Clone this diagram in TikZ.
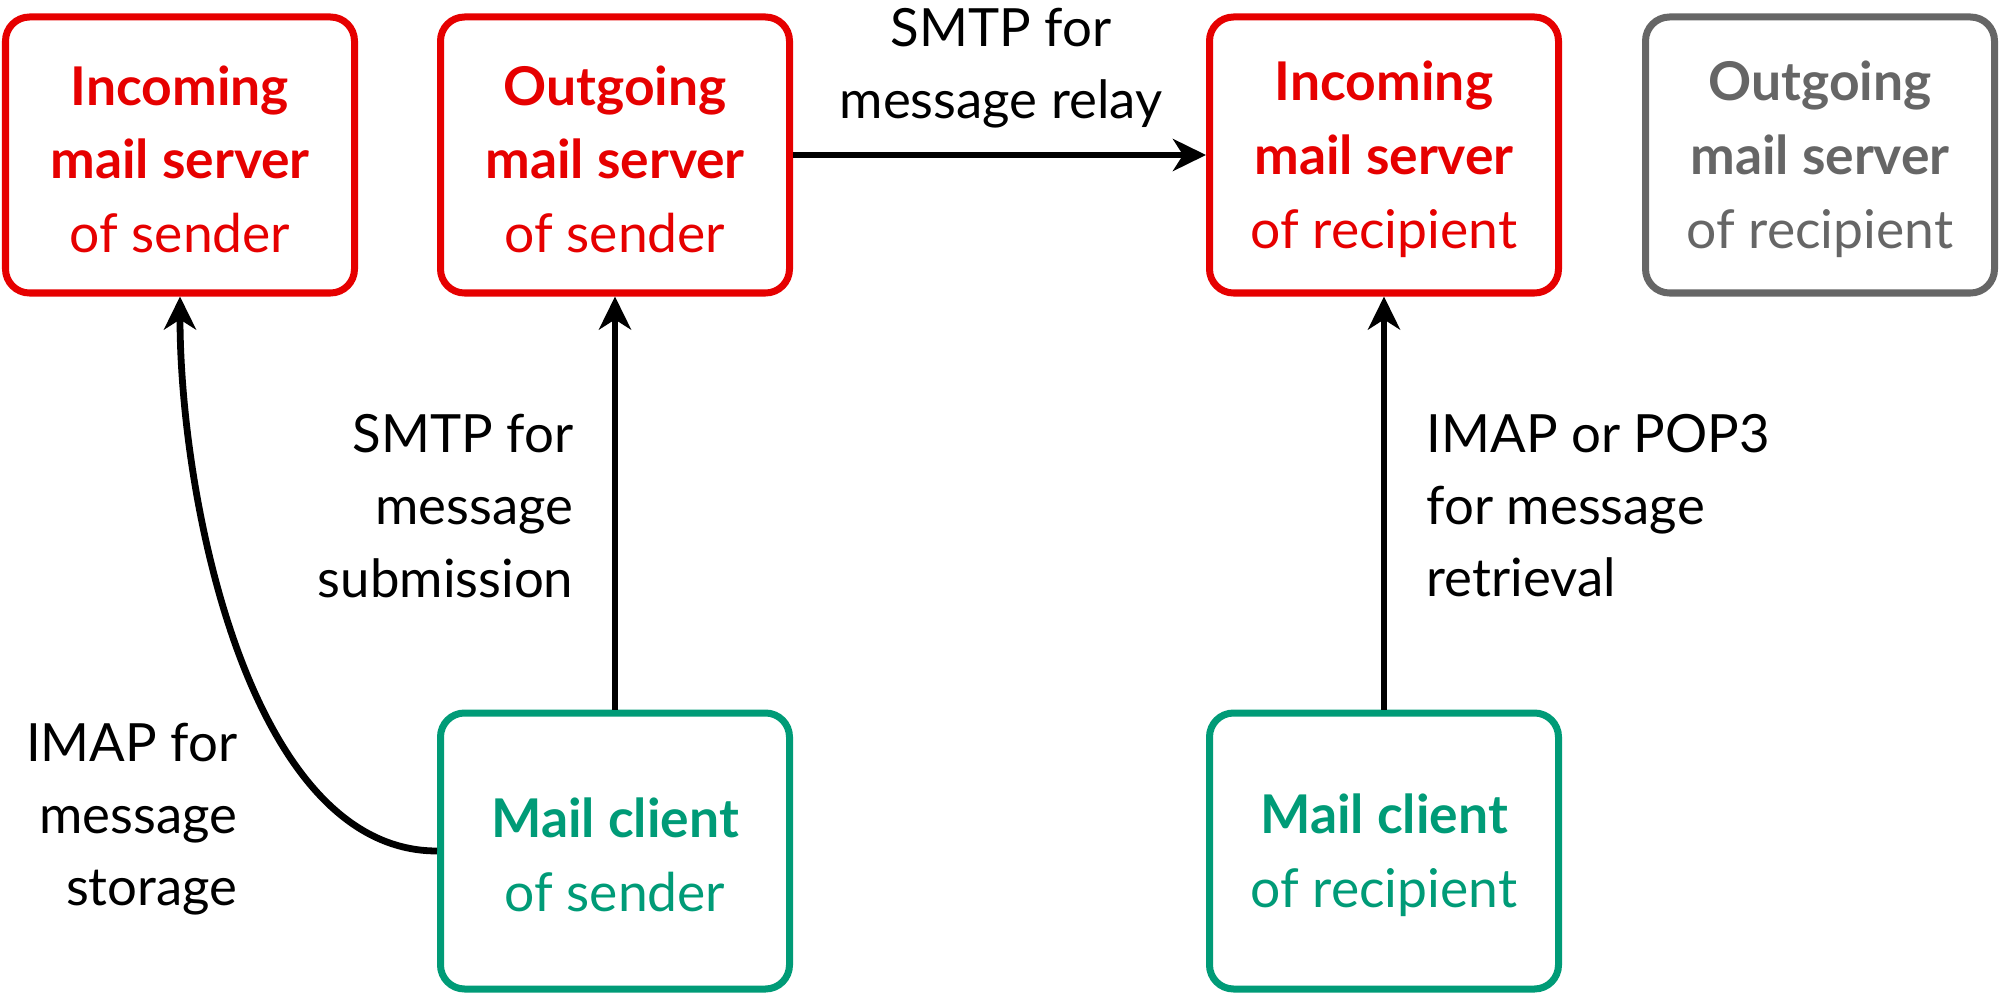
\documentclass[tikz,border=0pt]{standalone}
\usepackage{fontspec}
\setmainfont{Lato}
\usetikzlibrary{arrows.meta}
\definecolor{srvred}{HTML}{E60000}
\definecolor{cligreen}{HTML}{009B77}
\definecolor{offgray}{HTML}{666666}
\newcommand{\toppad}{\rule{0pt}{13.7pt}}
\begin{document}
\begin{tikzpicture}[
    box/.style={draw, line width=0.07cm, rounded corners=0.24cm, fill=white,
      minimum width=3.49cm, minimum height=2.76cm, inner sep=0pt,
      align=center, font=\fontsize{15.2pt}{21pt}\selectfont},
    server/.style={box, draw=srvred, text=srvred},
    client/.style={box, draw=cligreen, text=cligreen},
    unused/.style={box, draw=offgray, text=offgray},
    proto/.style={inner sep=0pt, font=\fontsize{15pt}{20.5pt}\selectfont},
    flow/.style={line width=0.068cm, -{Stealth[length=0.33cm, width=0.32cm, inset=0.1cm]}}
  ]
  \useasboundingbox (0,0) rectangle (20,-9.96);
  \draw
    (1.80,-1.55) node[server] (insend){\toppad\textbf{Incoming}\\\textbf{mail server}\\of sender}
    (6.15,-1.55) node[server] (outsend){\toppad\textbf{Outgoing}\\\textbf{mail server}\\of sender}
    (13.84,-1.55) node[server] (inrecip){\toppad\textbf{Incoming}\\\textbf{mail server}\\of recipient}
    (18.20,-1.55) node[unused] (outrecip){\toppad\textbf{Outgoing}\\\textbf{mail server}\\of recipient}
    (6.15,-8.51) node[client] (clisend){\toppad\textbf{Mail client}\\of sender}
    (13.84,-8.51) node[client] (clirecip){\toppad\textbf{Mail client}\\of recipient};
  \draw
    (10.01,-0.68) node[proto, align=center] (relay){SMTP for\\message relay}
    (5.74,-5.06) node[proto, align=right, anchor=east] (submit){SMTP for\\message\\submission}
    (14.26,-5.06) node[proto, align=left, anchor=west] (retrieve){IMAP or POP3\\for message\\retrieval}
    (2.38,-8.19) node[proto, align=right, anchor=east] (storage){IMAP for\\message\\storage};
  \begin{scope}[flow]
    \draw (outsend) to (inrecip);
    \draw (clisend) to (outsend);
    \draw (clirecip) to (inrecip);
    \draw (clisend.west) .. controls (2.50,-8.51) and (1.80,-5.00) .. (insend.south);
  \end{scope}
\end{tikzpicture}
\end{document}
